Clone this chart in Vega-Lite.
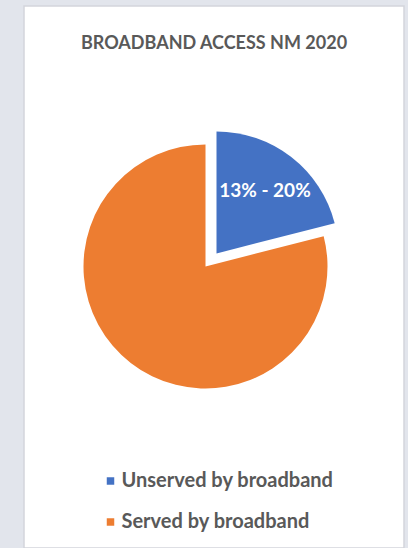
{
  "$schema": "https://vega.github.io/schema/vega-lite/v6.json",
  "width": 380,
  "height": 542,
  "autosize": {"type": "none"},
  "padding": {"left": 24, "top": 6, "right": 4, "bottom": 0},
  "background": "#e2e5ec",
  "view": {"fill": "white", "stroke": "#d3d5db", "strokeWidth": 1.5},
  "title": {
    "text": "BROADBAND ACCESS NM 2020",
    "font": "Lato",
    "fontSize": 18,
    "fontWeight": "bold",
    "color": "#595959",
    "anchor": "middle",
    "frame": "group",
    "baseline": "alphabetic",
    "offset": -61
  },
  "data": {
    "values": [
      {"category": "Unserved by broadband", "value": 21, "label": "13% - 20%"},
      {"category": "Served by broadband", "value": 79, "label": ""}
    ]
  },
  "encoding": {
    "theta": {"field": "value", "type": "quantitative", "stack": true},
    "order": {"field": "category", "sort": "descending"},
    "color": {
      "field": "category",
      "type": "nominal",
      "scale": {"domain": ["Unserved by broadband", "Served by broadband"], "range": ["#4472C4", "#ED7D31"]},
      "legend": {
        "orient": "none",
        "legendX": 76.5,
        "legendY": 465,
        "title": null,
        "symbolType": "square",
        "symbolSize": 56,
        "symbolStrokeWidth": 0,
        "symbolOpacity": 1,
        "labelFont": "Lato",
        "labelFontSize": 20,
        "labelFontWeight": "bold",
        "labelColor": "#595959",
        "labelLimit": 0,
        "rowPadding": 21,
        "labelOffset": 1,
        "padding": 0
      }
    }
  },
  "layer": [
    {
      "mark": {"type": "arc", "outerRadius": 122, "xOffset": -8.5, "yOffset": -10.5},
      "encoding": {"opacity": {"condition": {"test": "datum.category === 'Served by broadband'", "value": 1}, "value": 0}}
    },
    {
      "mark": {"type": "arc", "outerRadius": 122, "xOffset": 2.5, "yOffset": -23.5},
      "encoding": {"opacity": {"condition": {"test": "datum.category === 'Unserved by broadband'", "value": 1}, "value": 0}}
    },
    {
      "mark": {"type": "text", "radius": 79, "xOffset": 2.5, "yOffset": -23.5, "font": "Lato", "fontSize": 19, "fontWeight": "bold"},
      "encoding": {"text": {"field": "label"}, "color": {"value": "white"}}
    }
  ]
}
